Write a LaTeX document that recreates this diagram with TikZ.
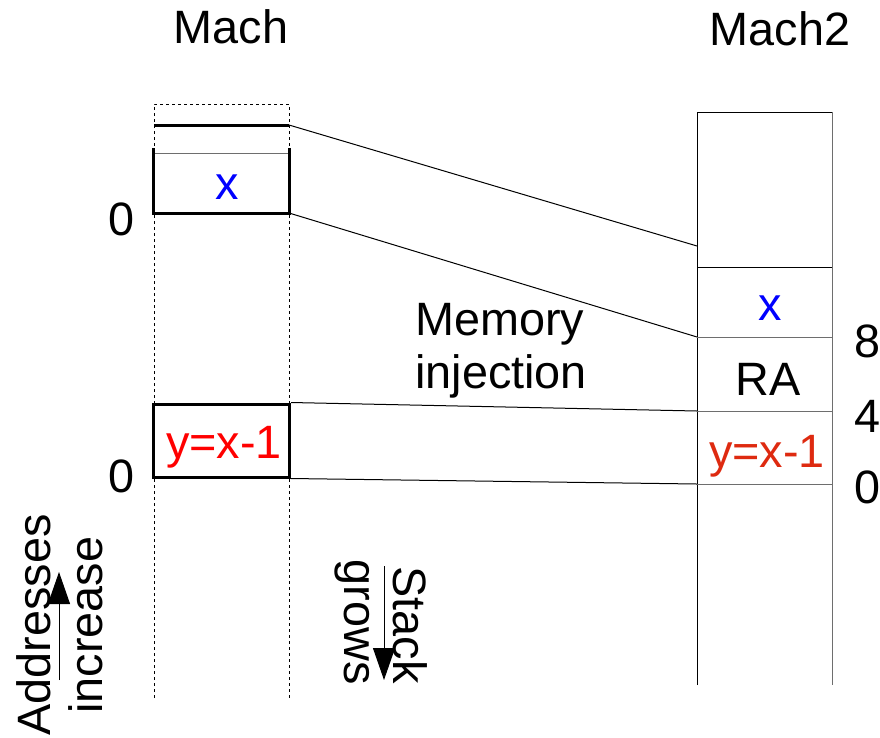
\documentclass[tikz,border=0pt]{standalone}
\usepackage{fontspec}
\setmainfont{Liberation Sans}
\usetikzlibrary{arrows.meta}
\definecolor{xblue}{RGB}{0,0,255}
\definecolor{yred}{RGB}{255,0,0}
\definecolor{yorange}{RGB}{222,42,16}
\definecolor{linegray}{RGB}{110,110,110}
\begin{document}
\begin{tikzpicture}[x=1pt,y=-1pt,
  lbl/.style={inner sep=0pt,anchor=base,font=\fontsize{46.8}{53}\selectfont},
  thin/.style={line width=1pt},
  thick3/.style={line width=3pt},
  guide/.style={line width=0.8pt,dash pattern=on 3pt off 3pt},
  conn/.style={line width=1pt},
  bigarrow/.style={line width=1pt,-{Triangle[length=32pt,width=22pt]}}]
\useasboundingbox (0,0) rectangle (880,737);
% titles
\node[lbl] (mach) at (231,43) {Mach};
\node[lbl] (mach2) at (780,45) {Mach2};
% left dashed column
\draw[guide] (154,698) -- (154,104) -- (289,104) -- (289,698);
% left top structure
\coordinate (ltop) at (289,125);
\draw[thick3] (154,125) -- (ltop);
\draw[thin,linegray] (154,153) -- (289,153);
\coordinate (lxbot) at (289,213);
\draw[thick3] (153,148) -- (153,213) -- (lxbot) -- (289,148);
\node[lbl,xblue] (lx) at (227,199) {x};
\node[lbl] (z1) at (122,235) {0};
% left red box
\node[draw,thick3,minimum width=136pt,minimum height=73pt,inner sep=0pt] (ybox) at (221.5,440.5) {};
\node[lbl,yred] (ly) at (224,458) {y=x-1};
\node[lbl] (z2) at (122,492) {0};
% right column
\draw[thin] (697,685) -- (697,112) -- (832,112);
\draw[thin,linegray] (832,112) -- (832,685);
\coordinate (rtop) at (697,246);
\coordinate (rx) at (697,337);
\coordinate (rra) at (697,411);
\coordinate (ry) at (697,484);
\draw[thin] (697,267) -- (832,267);
\draw[thin,linegray] (rx) -- (832,337);
\draw[thin,linegray] (rra) -- (832,411);
\draw[thin,linegray] (ry) -- (832,484);
\node[lbl,xblue] (rxl) at (770,320) {x};
\node[lbl] (ral) at (768,395) {RA};
\node[lbl,yorange] (ryl) at (767,467) {y=x-1};
\node[lbl] (n8) at (868,357) {8};
\node[lbl] (n4) at (868,432) {4};
\node[lbl] (n0) at (868,503) {0};
% connectors
\draw[conn] (ltop) -- (rtop);
\draw[conn] (lxbot) -- (rx);
\draw[conn] (ybox.north east) -- (rra);
\draw[conn] (ybox.south east) -- (ry);
% memory injection
\node[inner sep=0pt,anchor=north west,align=left,font=\fontsize{46.8}{53}\selectfont] (mem) at (415,303) {Memory\\injection};
% addresses increase
\node[lbl,rotate=90] (addr) at (50,625) {Addresses};
\node[lbl,rotate=90] (incr) at (102,625) {increase};
\coordinate (a1) at (59,680);
\coordinate (a2) at (59,572);
\draw[bigarrow] (a1) -- (a2);
% stack grows
\node[lbl,rotate=-90] (stack) at (393,625) {Stack};
\node[lbl,rotate=-90] (grows) at (344,622) {grows};
\coordinate (s1) at (384,566);
\coordinate (s2) at (384,680);
\draw[bigarrow] (s1) -- (s2);
\end{tikzpicture}
\end{document}
